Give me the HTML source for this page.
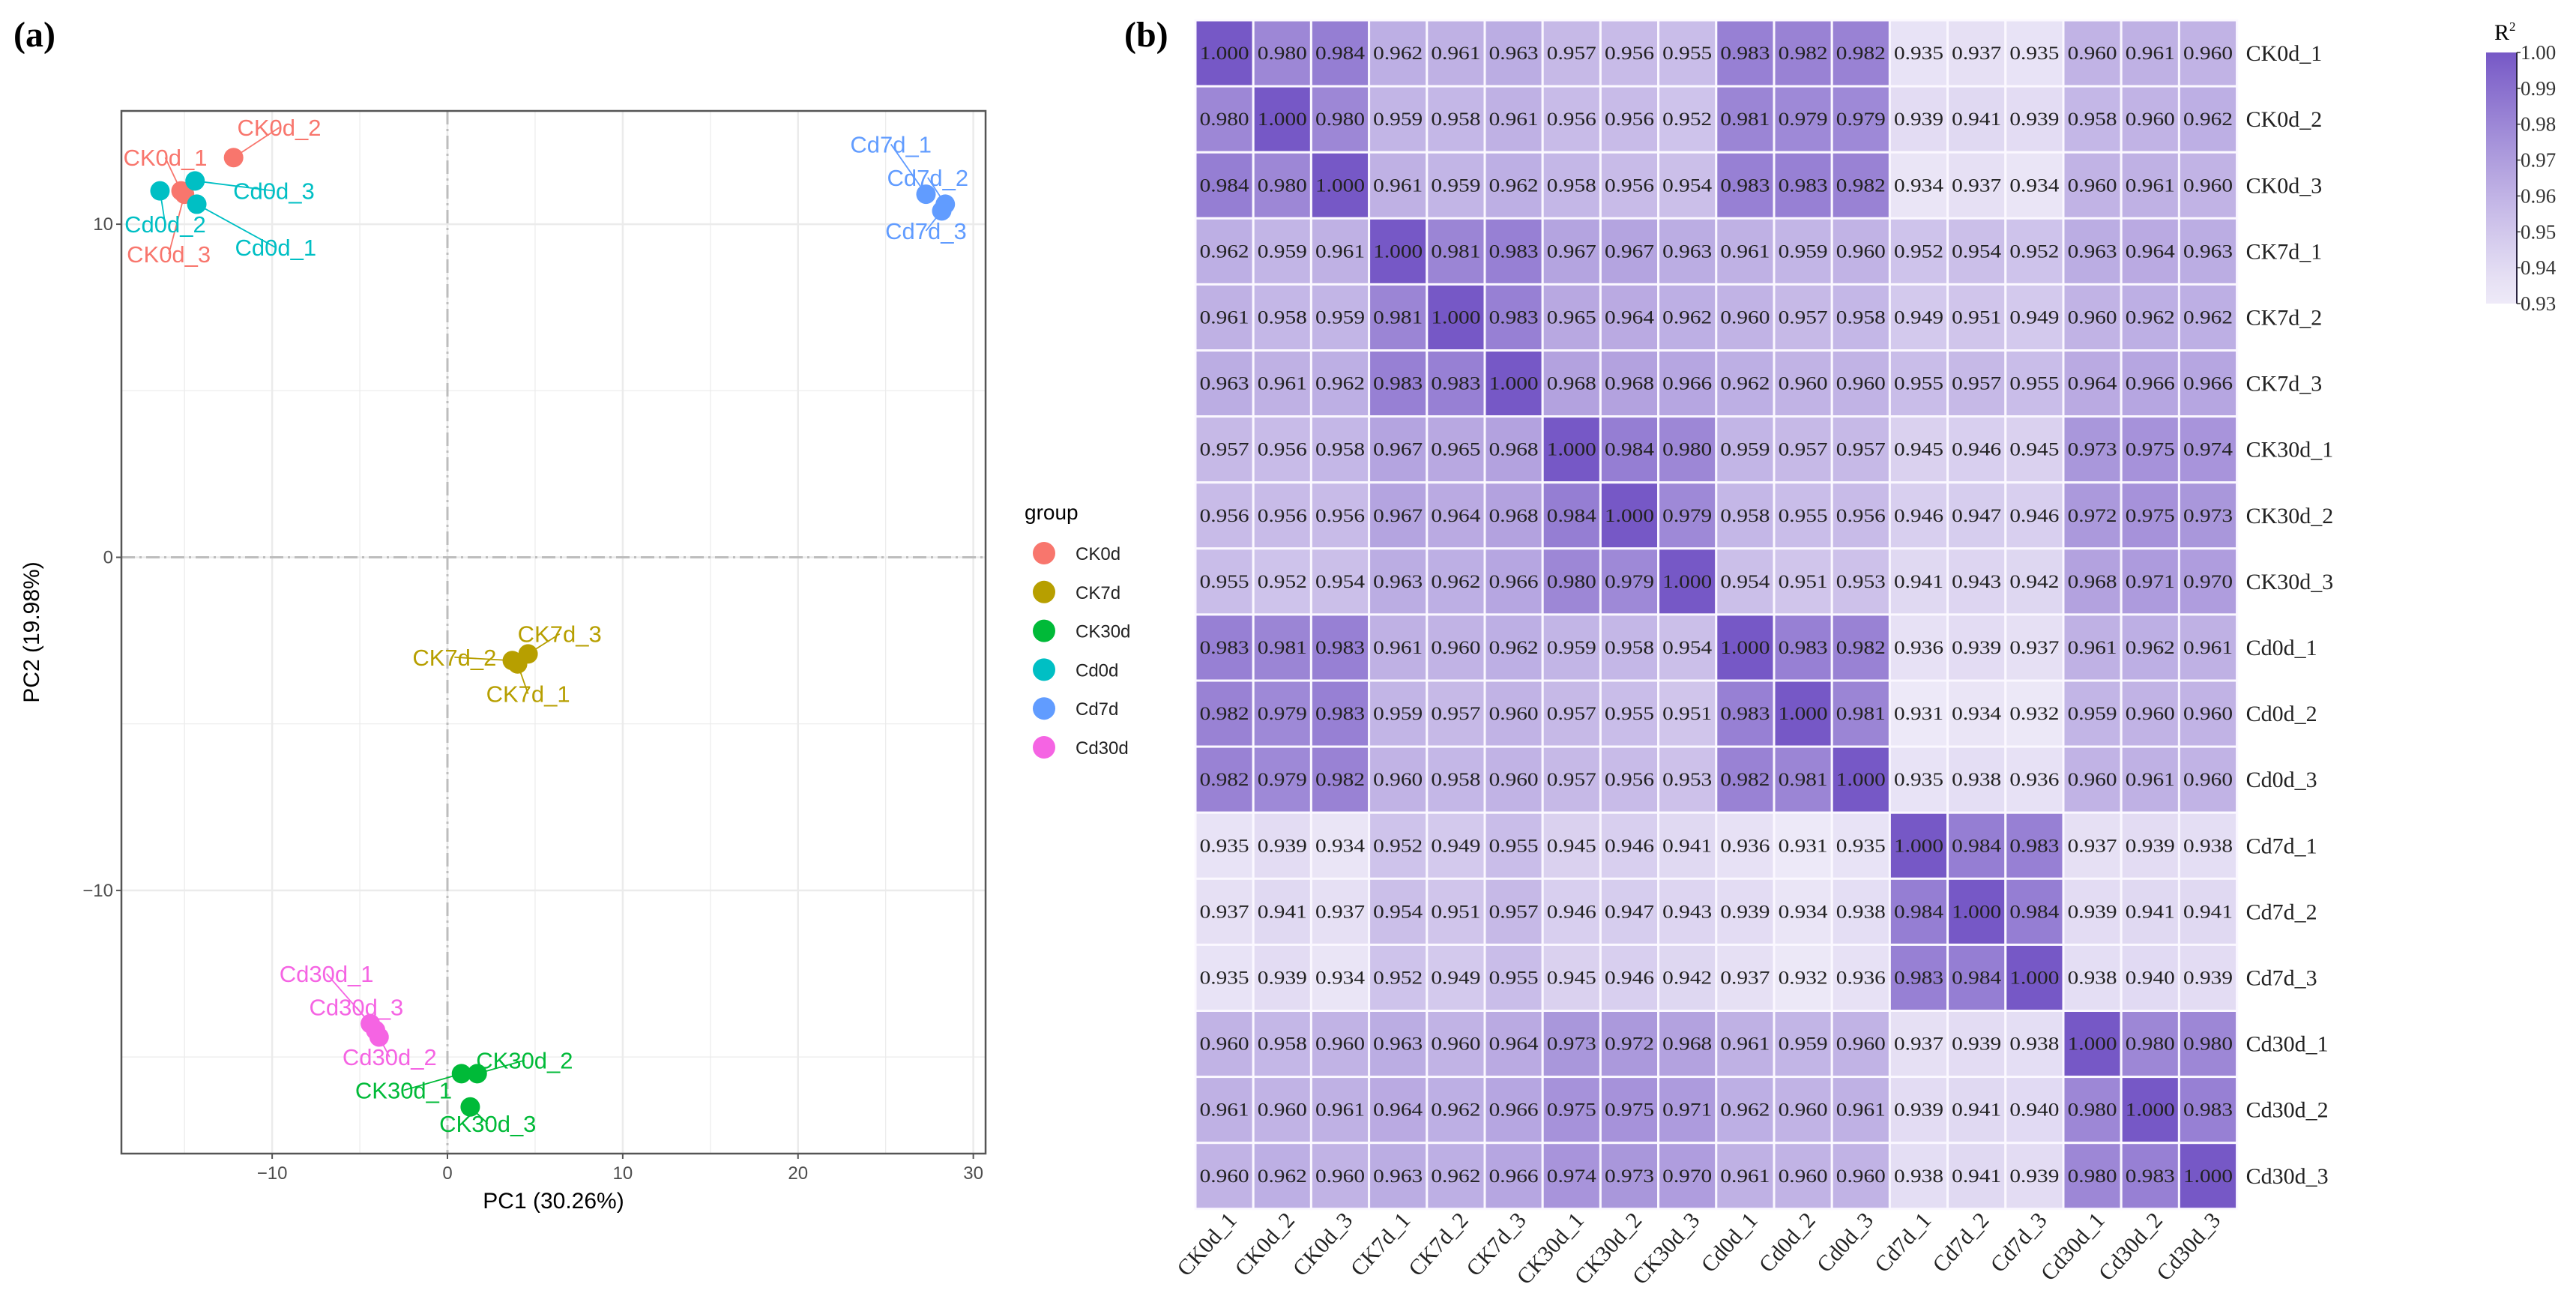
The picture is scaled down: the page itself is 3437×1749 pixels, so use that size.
<!DOCTYPE html>
<html><head><meta charset="utf-8"><style>
html,body{margin:0;padding:0;background:#fff;}
svg{display:block;}
</style></head><body>
<svg id="fig" xmlns="http://www.w3.org/2000/svg" width="3437" height="1749" viewBox="0 0 3437 1749">
<rect width="3437" height="1749" fill="#fff"/>
<text x="18" y="62" font-family="Liberation Serif, serif" font-weight="bold" font-size="48">(a)</text>
<text x="1500" y="62" font-family="Liberation Serif, serif" font-weight="bold" font-size="48">(b)</text>
<g id="pca"></g>
<g id="heat"></g>
</svg>
<script>
const NS="http://www.w3.org/2000/svg";
function mk(tag,attrs,parent,txt){const e=document.createElementNS(NS,tag);for(const k in attrs)e.setAttribute(k,attrs[k]);if(txt!==undefined)e.textContent=txt;parent.appendChild(e);return e;}

// ---------- PCA data ----------
const groups=["CK0d","CK7d","CK30d","Cd0d","Cd7d","Cd30d"];
const groupColors=["#F8766D","#B79F00","#00BA38","#00BFC4","#619CFF","#F564E3"];
const sampleNames=["CK0d_1","CK0d_2","CK0d_3","CK7d_1","CK7d_2","CK7d_3","CK30d_1","CK30d_2","CK30d_3","Cd0d_1","Cd0d_2","Cd0d_3","Cd7d_1","Cd7d_2","Cd7d_3","Cd30d_1","Cd30d_2","Cd30d_3"];
const sampleGroup=[0,0,0,1,1,1,2,2,2,3,3,3,4,4,4,5,5,5];
const pc1=[-15.2,-12.2,-15.0,4.0,3.7,4.6,0.8,1.7,1.3,-14.3,-16.4,-14.4,27.3,28.4,28.2,-4.4,-3.9,-4.1];
const pc2=[11.0,12.0,10.9,-3.2,-3.1,-2.9,-15.5,-15.5,-16.5,10.6,11.0,11.3,10.9,10.6,10.4,-14.0,-14.4,-14.2];
// label positions in data units
const labX=[-16.1,-9.6,-15.9,4.6,0.4,6.4,-2.5,4.4,2.3,-9.8,-16.1,-9.9,25.3,27.4,27.3,-6.9,-3.3,-5.2];
const labY=[12.0,12.9,9.1,-4.1,-3.0,-2.3,-16.0,-15.1,-17.0,9.3,10.0,11.0,12.4,11.4,9.8,-12.5,-15.0,-13.5];
const xTicks=[-10,0,10,20,30];
const yTicks=[-10,0,10];

const P={l:162,r:1315,t:148,b:1539,xmin:-18.6,xmax:30.7,ymin:-17.9,ymax:13.4};
const sx=v=>P.l+(v-P.xmin)/(P.xmax-P.xmin)*(P.r-P.l);
const sy=v=>P.b-(v-P.ymin)/(P.ymax-P.ymin)*(P.b-P.t);
const g=document.getElementById('pca');
for(let v=-15;v<=30;v+=5){const ln=mk('line',{x1:sx(v),x2:sx(v),y1:P.t,y2:P.b,stroke:'#ebebeb','stroke-width':v%10===0?2.5:1.2},g);

}
for(let v=-15;v<=10;v+=5){const ln=mk('line',{x1:P.l,x2:P.r,y1:sy(v),y2:sy(v),stroke:'#ebebeb','stroke-width':v%10===0?2.5:1.2},g);

}
const zx=mk('line',{x1:sx(0),x2:sx(0),y1:P.t,y2:P.b,stroke:'#bdbdbd','stroke-width':3,'stroke-dasharray':'18 6 3 6'},g);


const zy=mk('line',{x1:P.l,x2:P.r,y1:sy(0),y2:sy(0),stroke:'#bdbdbd','stroke-width':3,'stroke-dasharray':'18 6 3 6'},g);


const frame=mk('rect',{x:P.l,y:P.t,width:P.r-P.l,height:P.b-P.t,fill:'none',stroke:'#555','stroke-width':2.5},g);


xTicks.forEach(v=>{mk('line',{x1:sx(v),x2:sx(v),y1:P.b,y2:P.b+7,stroke:'#555','stroke-width':2},g);
const t=mk('text',{x:sx(v),y:P.b+34,'text-anchor':'middle','font-family':'Liberation Sans, sans-serif','font-size':24,fill:'#4d4d4d'},g,String(v).replace('-','\u2212'));

});
yTicks.forEach(v=>{mk('line',{x1:P.l-7,x2:P.l,y1:sy(v),y2:sy(v),stroke:'#555','stroke-width':2},g);
const t=mk('text',{x:P.l-11,y:sy(v)+8,'text-anchor':'end','font-family':'Liberation Sans, sans-serif','font-size':24,fill:'#4d4d4d'},g,String(v).replace('-','\u2212'));

});
const xt=mk('text',{x:(P.l+P.r)/2,y:1612,'text-anchor':'middle','font-family':'Liberation Sans, sans-serif','font-size':30},g,'PC1 (30.26%)');


const yt=mk('text',{x:0,y:0,transform:`translate(52,${(P.t+P.b)/2}) rotate(-90)`,'text-anchor':'middle','font-family':'Liberation Sans, sans-serif','font-size':30},g,'PC2 (19.98%)');


sampleNames.forEach((n,i)=>{const c=groupColors[sampleGroup[i]];
const l=mk('line',{x1:sx(pc1[i]),y1:sy(pc2[i]),x2:sx(labX[i]),y2:sy(labY[i]),stroke:c,'stroke-width':1.8},g);

});
sampleNames.forEach((n,i)=>{const c=groupColors[sampleGroup[i]];
const p=mk('circle',{cx:sx(pc1[i]),cy:sy(pc2[i]),r:13,fill:c},g);

});
sampleNames.forEach((n,i)=>{const c=groupColors[sampleGroup[i]];
const cx=sx(labX[i]),cy=sy(labY[i]);
const t=mk('text',{x:cx,y:cy+11,'text-anchor':'middle','font-family':'Liberation Sans, sans-serif','font-size':31,fill:c},g,n);

});
const lt=mk('text',{x:1367,y:693,'font-family':'Liberation Sans, sans-serif','font-size':28},g,'group');


groups.forEach((n,i)=>{const y=738+i*51.8;
const d=mk('circle',{cx:1393,cy:y,r:15,fill:groupColors[i]},g);


const t=mk('text',{x:1435,y:y+9,'font-family':'Liberation Sans, sans-serif','font-size':24,fill:'#222'},g,n);

});

// ---------- Heatmap data ----------
const hmLabels=sampleNames.slice();
const r2=[
[1.000,0.980,0.984,0.962,0.961,0.963,0.957,0.956,0.955,0.983,0.982,0.982,0.935,0.937,0.935,0.960,0.961,0.960],
[0.980,1.000,0.980,0.959,0.958,0.961,0.956,0.956,0.952,0.981,0.979,0.979,0.939,0.941,0.939,0.958,0.960,0.962],
[0.984,0.980,1.000,0.961,0.959,0.962,0.958,0.956,0.954,0.983,0.983,0.982,0.934,0.937,0.934,0.960,0.961,0.960],
[0.962,0.959,0.961,1.000,0.981,0.983,0.967,0.967,0.963,0.961,0.959,0.960,0.952,0.954,0.952,0.963,0.964,0.963],
[0.961,0.958,0.959,0.981,1.000,0.983,0.965,0.964,0.962,0.960,0.957,0.958,0.949,0.951,0.949,0.960,0.962,0.962],
[0.963,0.961,0.962,0.983,0.983,1.000,0.968,0.968,0.966,0.962,0.960,0.960,0.955,0.957,0.955,0.964,0.966,0.966],
[0.957,0.956,0.958,0.967,0.965,0.968,1.000,0.984,0.980,0.959,0.957,0.957,0.945,0.946,0.945,0.973,0.975,0.974],
[0.956,0.956,0.956,0.967,0.964,0.968,0.984,1.000,0.979,0.958,0.955,0.956,0.946,0.947,0.946,0.972,0.975,0.973],
[0.955,0.952,0.954,0.963,0.962,0.966,0.980,0.979,1.000,0.954,0.951,0.953,0.941,0.943,0.942,0.968,0.971,0.970],
[0.983,0.981,0.983,0.961,0.960,0.962,0.959,0.958,0.954,1.000,0.983,0.982,0.936,0.939,0.937,0.961,0.962,0.961],
[0.982,0.979,0.983,0.959,0.957,0.960,0.957,0.955,0.951,0.983,1.000,0.981,0.931,0.934,0.932,0.959,0.960,0.960],
[0.982,0.979,0.982,0.960,0.958,0.960,0.957,0.956,0.953,0.982,0.981,1.000,0.935,0.938,0.936,0.960,0.961,0.960],
[0.935,0.939,0.934,0.952,0.949,0.955,0.945,0.946,0.941,0.936,0.931,0.935,1.000,0.984,0.983,0.937,0.939,0.938],
[0.937,0.941,0.937,0.954,0.951,0.957,0.946,0.947,0.943,0.939,0.934,0.938,0.984,1.000,0.984,0.939,0.941,0.941],
[0.935,0.939,0.934,0.952,0.949,0.955,0.945,0.946,0.942,0.937,0.932,0.936,0.983,0.984,1.000,0.938,0.940,0.939],
[0.960,0.958,0.960,0.963,0.960,0.964,0.973,0.972,0.968,0.961,0.959,0.960,0.937,0.939,0.938,1.000,0.980,0.980],
[0.961,0.960,0.961,0.964,0.962,0.966,0.975,0.975,0.971,0.962,0.960,0.961,0.939,0.941,0.940,0.980,1.000,0.983],
[0.960,0.962,0.960,0.963,0.962,0.966,0.974,0.973,0.970,0.961,0.960,0.960,0.938,0.941,0.939,0.980,0.983,1.000]];
const cbTicks=[1.00,0.99,0.98,0.97,0.96,0.95,0.94,0.93];
const H={l:1595,t:27,cw:77.2,ch:88.1,vmin:0.93,vmax:1.0};
const lo=[238,234,248],hi=[118,88,198];
function col(v){let t=(v-H.vmin)/(H.vmax-H.vmin);t=Math.max(0,Math.min(1,t));t=Math.pow(t,1.15);
return `rgb(${lo.map((a,k)=>Math.round(a+(hi[k]-a)*t)).join(',')})`;}
const hx=j=>H.l+j*H.cw, hy=i=>H.t+i*H.ch;
const h=document.getElementById('heat');
r2.forEach((row,i)=>row.forEach((v,j)=>{
const c=mk('rect',{x:hx(j),y:hy(i),width:H.cw,height:H.ch,fill:col(v),stroke:'#fbf8ff','stroke-width':3},h);


const t=mk('text',{x:hx(j)+H.cw/2,y:hy(i)+H.ch/2+8,'text-anchor':'middle','font-family':'Liberation Serif, serif','font-size':25,fill:'#222',textLength:66,lengthAdjust:'spacingAndGlyphs'},h,v.toFixed(3));

}));
hmLabels.forEach((n,i)=>{
const t=mk('text',{x:hx(18)+12,y:hy(i)+H.ch/2+10,'font-family':'Liberation Serif, serif','font-size':30,fill:'#222'},h,n);


const cx=hx(i)+H.cw/2+18, cy=hy(18)+16;
const u=mk('text',{x:cx,y:cy,transform:`rotate(-48 ${cx} ${cy})`,'text-anchor':'end','font-family':'Liberation Serif, serif','font-size':30,fill:'#222'},h,n);

});
const defs=mk('defs',{},h);
const gr=mk('linearGradient',{id:'cbg',x1:0,y1:1,x2:0,y2:0},defs);
for(let k=0;k<=10;k++){const v=H.vmin+(H.vmax-H.vmin)*k/10;mk('stop',{offset:k/10,'stop-color':col(v)},gr);}
const CB={x:3317,w:41,top:70,bot:405};
const cby=v=>CB.bot-(v-H.vmin)/(H.vmax-H.vmin)*(CB.bot-CB.top);
const cb=mk('rect',{x:CB.x,y:CB.top,width:CB.w,height:CB.bot-CB.top,fill:'url(#cbg)'},h);


const cbl=mk('line',{x1:CB.x+CB.w,x2:CB.x+CB.w,y1:CB.top,y2:CB.bot,stroke:'#2a2440','stroke-width':2},h);


const ct=mk('text',{x:3328,y:53,'font-family':'Liberation Serif, serif','font-size':30},h,'R');
mk('tspan',{dy:-12,'font-size':17},ct,'2');


cbTicks.forEach(v=>{const y=cby(v);
mk('line',{x1:CB.x+CB.w,x2:CB.x+CB.w+5,y1:y,y2:y,stroke:'#333','stroke-width':1.5},h);
const t=mk('text',{x:CB.x+CB.w+5,y:y+9,'font-family':'Liberation Serif, serif','font-size':27,fill:'#333'},h,v.toFixed(2));

});
</script>
</body></html>
